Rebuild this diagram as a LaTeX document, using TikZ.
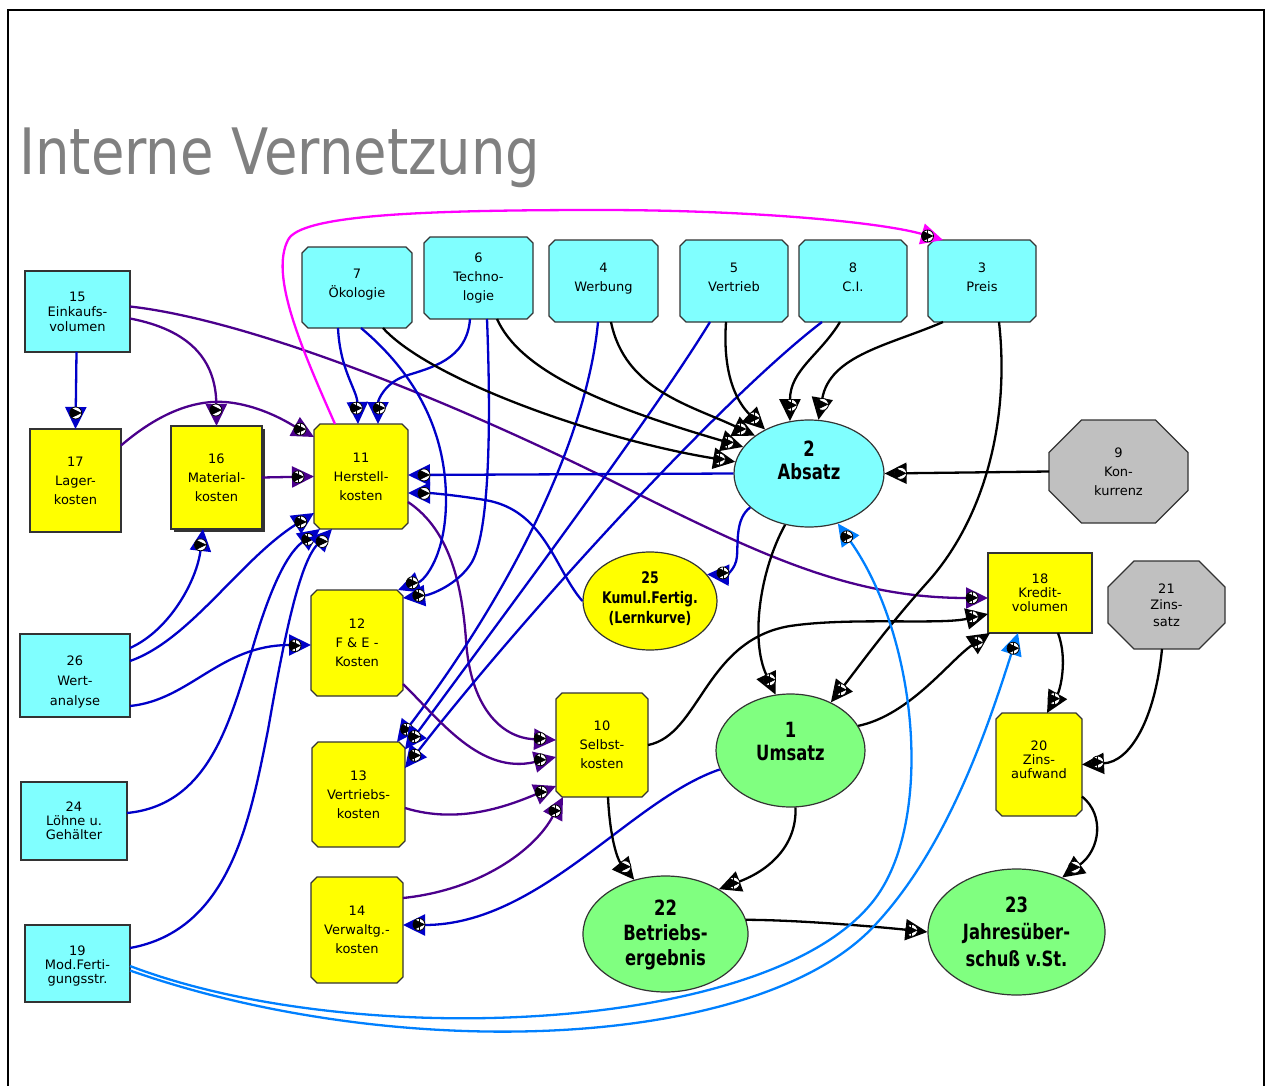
\documentclass[tikz,border=0pt]{standalone}
\usepackage{fontspec}
\setmainfont{DejaVu Sans}
\newfontfamily\titlefont[FakeStretch=0.85]{DejaVu Sans}
\newfontfamily\ellfont[FakeStretch=0.78]{DejaVu Sans}
\usetikzlibrary{shapes.geometric,shapes.misc,arrows.meta,decorations.markings,calc,shadows}
\definecolor{cyanbox}{RGB}{128,255,255}
\definecolor{yel}{RGB}{255,255,0}
\definecolor{grn}{RGB}{128,255,128}
\definecolor{gry}{RGB}{192,192,192}
\definecolor{eblue}{RGB}{0,0,200}
\definecolor{epurp}{RGB}{75,0,140}
\definecolor{lblue}{RGB}{0,128,255}
\definecolor{emag}{RGB}{255,0,255}
\definecolor{titlegray}{RGB}{128,128,128}
\newcommand\zwtext[2]{\makebox[0pt]{\smash{\raisebox{#1}{\begin{tabular}{@{}c@{}}#2\end{tabular}}}}}
\tikzset{
 nbox/.style={rectangle, draw=black!80, line width=1.2pt, inner sep=1pt, align=center, font=\fontsize{13}{19}\selectfont},
 cbox/.style={nbox, chamfered rectangle, chamfered rectangle xsep=3pt, chamfered rectangle ysep=3pt},
 tightlines/.style={font=\fontsize{13}{14}\selectfont},
 fcyan/.style={fill=cyanbox}, fyel/.style={fill=yel}, fgreen/.style={fill=grn},
 ell/.style={ellipse, draw=black!80, line width=1.2pt, inner sep=0pt, font=\ellfont\bfseries\fontsize{21}{23}\selectfont},
 oct/.style={nbox, chamfered rectangle, fill=gry},
 conn/.style={line width=2.3pt},
 cblue/.style={conn, draw=eblue},
 cpurp/.style={conn, draw=epurp},
 cblack/.style={conn, draw=black},
 clblue/.style={conn, draw=lblue},
 cmag/.style={conn, draw=emag},
 pmark/.style={circle, draw=black, fill=white, line width=0.8pt, minimum size=12pt, inner sep=0pt,
   path picture={\draw[line width=0.8pt] (path picture bounding box.north)--(path picture bounding box.south) (path picture bounding box.west)--(path picture bounding box.east);}},
 mmark/.style={circle, draw=black, fill=white, line width=0.8pt, minimum size=12pt, inner sep=0pt,
   path picture={\draw[line width=0.8pt] (path picture bounding box.west)--(path picture bounding box.east);}},
 plusarr/.style={-{Triangle[length=22pt,width=21pt]}, postaction={decorate, decoration={markings, mark=at position -16pt with {\node[pmark]{};}}}},
 minusarr/.style={-{Triangle[length=22pt,width=21pt]}, postaction={decorate, decoration={markings, mark=at position -16pt with {\node[mmark]{};}}}}
}
\begin{document}
\begin{tikzpicture}[x=1pt,y=-1pt]
\useasboundingbox (0,0) rectangle (1266,1086);
\draw[line width=2pt] (8,1086) -- (8,10) -- (1264,10) -- (1264,1086);
\node[anchor=base west, inner sep=0pt, text=titlegray, font=\titlefont\fontsize{64}{64}\selectfont] (title) at (19,175) {Interne Vernetzung};

% top row
\node[cbox,fcyan,minimum width=110pt,minimum height=81pt] (n7) at (357,287.5) {7\\Ökologie\rule[-8pt]{0pt}{1pt}};
\node[cbox,fcyan,minimum width=109pt,minimum height=82pt] (n6) at (478.5,278) {6\\Techno-\\logie};
\node[cbox,fcyan,minimum width=109pt,minimum height=82pt] (n4) at (603.5,281) {4\\Werbung\rule[-8pt]{0pt}{1pt}};
\node[cbox,fcyan,minimum width=108pt,minimum height=82pt] (n5) at (734,281) {5\\Vertrieb\rule[-8pt]{0pt}{1pt}};
\node[cbox,fcyan,minimum width=108pt,minimum height=82pt] (n8) at (853,281) {8\\C.I.\rule[-8pt]{0pt}{1pt}};
\node[cbox,fcyan,minimum width=108pt,minimum height=82pt] (n3) at (982,281) {3\\Preis\rule[-8pt]{0pt}{1pt}};
% left column
\node[nbox,fcyan,font=\fontsize{13}{15}\selectfont,minimum width=105pt,minimum height=81pt] (n15) at (77.5,311.5) {15\\Einkaufs-\\volumen};
\node[nbox,fcyan,font=\fontsize{13}{20}\selectfont,minimum width=110pt,minimum height=83pt] (n26) at (75,675.5) {\rule{0pt}{22pt}26\\Wert-\\analyse};
\node[nbox,fcyan,tightlines,minimum width=106pt,minimum height=78pt] (n24) at (74,821) {24\\Löhne u.\\Gehälter};
\node[nbox,fcyan,tightlines,minimum width=105pt,minimum height=77pt] (n19) at (77.5,963.5) {\rule{0pt}{14pt}19\\Mod.Ferti-\\gungsstr.};
% yellow boxes
\node[nbox,fyel,minimum width=91pt,minimum height=103pt] (n17) at (75.5,480.5) {17\\Lager-\\kosten};
\node[nbox,fyel,drop shadow={shadow xshift=3pt,shadow yshift=-3pt,fill=black!80,opacity=1},minimum width=91pt,minimum height=103pt] (n16) at (216.5,477.5) {16\\Material-\\kosten};
\node[cbox,fyel,minimum width=94pt,minimum height=105pt] (n11) at (361,476.5) {11\\Herstell-\\kosten};
\node[cbox,fyel,minimum width=92pt,minimum height=106pt] (n12) at (357,643) {12\\F \& E -\\Kosten};
\node[cbox,fyel,minimum width=93pt,minimum height=105pt] (n13) at (358.5,794.5) {13\\Vertriebs-\\kosten};
\node[cbox,fyel,minimum width=92pt,minimum height=106pt] (n14) at (357,930) {14\\Verwaltg.-\\kosten};
\node[cbox,fyel,minimum width=92pt,minimum height=104pt] (n10) at (602,745) {10\\Selbst-\\kosten};
\node[nbox,fyel,tightlines,minimum width=104pt,minimum height=80pt] (n18) at (1040,593) {18\\Kredit-\\volumen};
\node[cbox,fyel,tightlines,minimum width=86pt,minimum height=103pt] (n20) at (1039,764.5) {20\\Zins-\\aufwand\rule[-10pt]{0pt}{1pt}};
% octagons
\node[oct,chamfered rectangle xsep=16pt,chamfered rectangle ysep=16.5pt,minimum width=139pt,minimum height=103pt] (n9) at (1118.5,471.5) {9\\Kon-\\kurrenz};
\node[oct,font=\fontsize{13}{16.5}\selectfont,chamfered rectangle xsep=12.5pt,chamfered rectangle ysep=13.5pt,minimum width=117pt,minimum height=88pt] (n21) at (1166.5,605) {21\\Zins-\\satz};
% ellipses
\node[ell,fcyan,minimum width=150pt,minimum height=107pt] (n2) at (809,473.5) {\zwtext{5pt}{2\\Absatz}};
\node[ell,fyel,font=\ellfont\bfseries\fontsize{16}{20}\selectfont,minimum width=134pt,minimum height=98pt] (n25) at (650,601) {\zwtext{-3pt}{25\\Kumul.Fertig.\\(Lernkurve)}};
\node[ell,fgreen,minimum width=149pt,minimum height=113pt] (n1) at (790.5,750.5) {\zwtext{1pt}{1\\Umsatz}};
\node[ell,fgreen,font=\ellfont\bfseries\fontsize{21}{25}\selectfont,minimum width=165pt,minimum height=116pt] (n22) at (665.5,934) {\zwtext{-7pt}{22\\Betriebs-\\ergebnis}};
\node[ell,fgreen,font=\ellfont\bfseries\fontsize{21}{27}\selectfont,minimum width=177pt,minimum height=126pt] (n23) at (1016.5,932) {\zwtext{-7pt}{23\\Jahresüber-\\schuß v.St.}};

% ---------- connectors ----------
% from 15
\draw[cblue,minusarr] ($(n15.center)+(-1,40.5)$) -- ($(n17.center)+(0,-51.5)$);
\draw[cpurp,minusarr] ($(n15.center)+(52.5,7)$) .. controls (190,330) and (216,360) .. ($(n16.center)+(0,-51.5)$);
\draw[cpurp,plusarr] ($(n15.center)+(52.5,-5)$) .. controls (250,320) and (450,400) .. (620,485) .. controls (760,555) and (850,598) .. ($(n18.center)+(-52,5)$);
% into 11
\draw[cpurp,plusarr] ($(n17.center)+(45.5,-35)$) .. controls (160,412) and (195,400) .. (225,402) .. controls (262,405) and (292,425) .. ($(n11.center)+(-47,-39.5)$);
\draw[cpurp,plusarr] ($(n16.center)+(45.5,0)$) -- ($(n11.center)+(-47,0)$);
\draw[cblue,plusarr] ($(n7.center)+(-19,40.5)$) .. controls (340,370) and (357,390) .. ($(n11.center)+(-3,-52.5)$);
\draw[cblue,plusarr] ($(n6.center)+(-8.5,41)$) .. controls (467,360) and (430,368) .. (405,376) .. controls (385,383) and (378,400) .. ($(n11.center)+(17,-52.5)$);
\draw[cblue,minusarr] (n2.west) -- ($(n11.center)+(47,-1.5)$);
\draw[cblue,minusarr] (n25.west) .. controls (555,570) and (545,510) .. (485,500) .. controls (455,495) and (430,493) .. ($(n11.center)+(47,16.5)$);
\draw[cblue,minusarr] ($(n26.center)+(55,-27.5)$) .. controls (170,630) and (197,580) .. ($(n16.center)+(-13.5,51.5)$);
\draw[cblue,plusarr] ($(n26.center)+(55,-14.5)$) .. controls (190,640) and (240,560) .. ($(n11.center)+(-47,36.5)$);
\draw[cblue,plusarr] ($(n26.center)+(55,30.5)$) .. controls (190,700) and (220,645) .. ($(n12.center)+(-46,2)$);
\draw[cblue,plusarr] ($(n24.center)+(53,-8)$) .. controls (210,805) and (230,720) .. (252,650) .. controls (268,595) and (285,555) .. ($(n11.center)+(-41,52.5)$);
\draw[cblue,minusarr] ($(n19.center)+(52.5,-15.5)$) .. controls (230,930) and (250,820) .. (268,730) .. controls (282,650) and (298,565) .. ($(n11.center)+(-29,52.5)$);
% from 11
\draw[cmag,plusarr] ($(n11.center)+(-26,-52.5)$) .. controls (300,345) and (270,275) .. (288,240) .. controls (300,215) and (420,210) .. (600,210) .. controls (750,210) and (880,222) .. ($(n3.center)+(-39,-41)$);
\draw[cpurp,plusarr] ($(n11.center)+(47,25.5)$) .. controls (450,530) and (462,585) .. (466,640) .. controls (470,705) and (500,738) .. ($(n10.center)+(-46,-5)$);
% into 12, 13, 14
\draw[cblue,plusarr] ($(n7.center)+(4,40.5)$) .. controls (405,365) and (446,420) .. (446,500) .. controls (446,555) and (425,580) .. ($(n12.center)+(41,-53)$);
\draw[cblue,plusarr] ($(n6.center)+(8.5,41)$) .. controls (491,420) and (490,530) .. (472,562) .. controls (458,585) and (430,595) .. ($(n12.center)+(46,-45)$);
\draw[cblue,plusarr] ($(n4.center)+(-5.5,41)$) .. controls (588,430) and (520,580) .. ($(n13.center)+(38.5,-52.5)$);
\draw[cblue,plusarr] ($(n5.center)+(-24,41)$) .. controls (650,420) and (500,620) .. ($(n13.center)+(46.5,-45)$);
\draw[cblue,plusarr] ($(n8.center)+(-31,41)$) .. controls (720,400) and (520,620) .. ($(n13.center)+(46.5,-26.5)$);
\draw[cblue,plusarr] (n1.195) .. controls (630,800) and (540,925) .. ($(n14.center)+(46,-5)$);
% into 10
\draw[cpurp,plusarr] ($(n12.center)+(46,41)$) .. controls (440,720) and (480,775) .. ($(n10.center)+(-46,12)$);
\draw[cpurp,plusarr] ($(n13.center)+(46.5,13.5)$) .. controls (460,825) and (510,805) .. ($(n10.center)+(-46,41)$);
\draw[cpurp,plusarr] ($(n14.center)+(46,-32)$) .. controls (480,890) and (535,850) .. ($(n10.center)+(-39,52)$);
% from 10, 1, 22
\draw[cblack,plusarr] ($(n10.center)+(46,0)$) .. controls (700,735) and (705,640) .. (790,626) .. controls (850,617) and (940,625) .. ($(n18.center)+(-52,21)$);
\draw[cblack,minusarr] ($(n10.center)+(6,52)$) .. controls (610,840) and (618,860) .. (n22.120);
\draw[cblack,plusarr] (n1.-85) .. controls (797,845) and (770,870) .. (n22.40);
\draw[cblack,plusarr] (n22.10) .. controls (800,920) and (880,927) .. (n23.west);
\draw[cblack,plusarr] (n1.20) .. controls (910,715) and (950,660) .. ($(n18.center)+(-50,40)$);
% into / from 2
\draw[cblack,plusarr] (n2.-115) .. controls (760,570) and (750,640) .. (n1.105);
\draw[cblack,plusarr] ($(n3.center)+(17,41)$) .. controls (1010,420) and (985,520) .. (925,585) .. controls (885,630) and (860,665) .. (n1.50);
\draw[cblue,plusarr] (n2.-150) .. controls (736,518) and (738,540) .. (737,556) .. controls (736,570) and (725,575) .. (n25.25);
\draw[cblack,minusarr] ($(n3.center)+(-39,41)$) .. controls (890,345) and (830,355) .. (n2.80);
\draw[cblack,plusarr] ($(n8.center)+(-13,41)$) .. controls (820,355) and (790,370) .. (n2.110);
\draw[cblack,plusarr] ($(n5.center)+(-8,41)$) .. controls (722,380) and (740,405) .. (n2.135);
\draw[cblack,plusarr] ($(n4.center)+(7.5,41)$) .. controls (625,390) and (690,405) .. (n2.145);
\draw[cblack,plusarr] ($(n6.center)+(18.5,41)$) .. controls (520,370) and (600,405) .. (n2.158);
\draw[cblack,plusarr] ($(n7.center)+(26,40.5)$) .. controls (430,380) and (600,440) .. (n2.171);
\draw[cblack,minusarr] ($(n9.center)+(-69.5,0)$) -- (n2.east);
% light blue from 19
\draw[clblue,plusarr] ($(n19.center)+(52.5,2.5)$) .. controls (350,1050) and (760,1035) .. (870,905) .. controls (935,830) and (920,640) .. (n2.-60);
\draw[clblue,plusarr] ($(n19.center)+(52.5,7)$) .. controls (400,1065) and (760,1050) .. (875,925) .. controls (950,845) and (990,720) .. ($(n18.center)+(-22,40)$);
% right side
\draw[cblack,plusarr] ($(n18.center)+(18,40)$) .. controls (1068,660) and (1060,690) .. ($(n20.center)+(8,-51.5)$);
\draw[cblack,plusarr] ($(n21.center)+(-4.5,44)$) .. controls (1155,720) and (1130,762) .. ($(n20.center)+(43,0)$);
\draw[cblack,minusarr] ($(n20.center)+(43,32)$) .. controls (1105,815) and (1100,850) .. (n23.50);
\end{tikzpicture}
\end{document}
